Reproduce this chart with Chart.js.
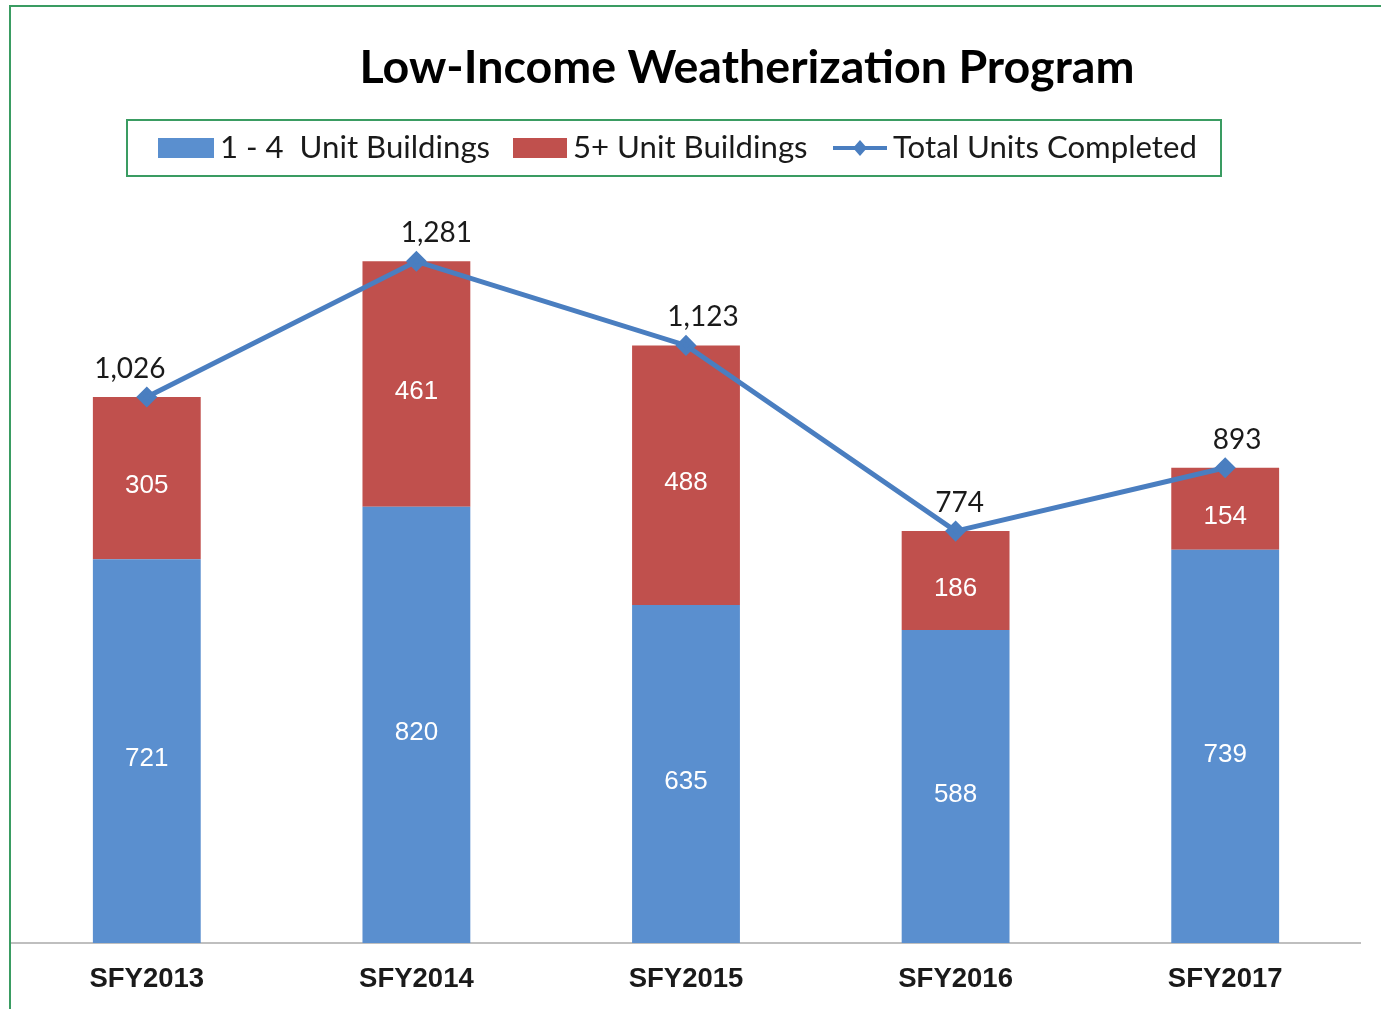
<!DOCTYPE html>
<html>
<head>
<meta charset="utf-8">
<script src="https://cdn.jsdelivr.net/npm/chart.js@4.4.1/dist/chart.umd.min.js"></script>
<style>
  html, body { margin: 0; padding: 0; background: #fff; overflow: hidden; }
  #wrap { position: absolute; left: 0; top: 0; width: 1381px; height: 1009px; }
</style>
</head>
<body>
<div id="wrap"><canvas id="myChart" width="1381" height="1009"></canvas></div>
<script>
// chart data
const years = ['SFY2013', 'SFY2014', 'SFY2015', 'SFY2016', 'SFY2017'];
const smallBuildings = [721, 820, 635, 588, 739];
const largeBuildings = [305, 461, 488, 186, 154];
const totalUnits = [1026, 1281, 1123, 774, 893];
const seriesNames = ['1 - 4  Unit Buildings', '5+ Unit Buildings', 'Total Units Completed'];
const chartTitle = 'Low-Income Weatherization Program';

const blue = '#5A8FCF';
const red = '#C0504D';
const lineBlue = '#4A7EC0';
const green = '#3A9C62';

// nudges for the total labels, like the hand placed ones in the original
const totalLabelShift = [-17, 20, 17, 4, 12];

const calibriLike = 'Lato, "Open Sans", sans-serif';
const arialLike = '"Liberation Sans", Arial, sans-serif';

function fitSize(ctx, text, weight, family, width) {
  ctx.font = weight + ' 100px ' + family;
  return 100 * width / ctx.measureText(text).width;
}

// outer frame, title and the boxed legend
const headerPlugin = {
  id: 'header',
  beforeDraw(chart) {
    const ctx = chart.ctx;
    ctx.save();
    ctx.strokeStyle = green;
    ctx.lineWidth = 2;
    ctx.beginPath();
    ctx.moveTo(10, 1009);
    ctx.lineTo(10, 6);
    ctx.lineTo(1381, 6);
    ctx.stroke();
    ctx.restore();
  },
  afterDraw(chart) {
    const ctx = chart.ctx;
    ctx.save();
    // title
    let size = fitSize(ctx, chartTitle, 'bold', calibriLike, 775);
    ctx.font = 'bold ' + size + 'px ' + calibriLike;
    ctx.fillStyle = '#000';
    ctx.textAlign = 'center';
    ctx.textBaseline = 'middle';
    ctx.fillText(chartTitle, 747, 68);

    // legend box
    ctx.strokeStyle = green;
    ctx.lineWidth = 2;
    ctx.strokeRect(127, 120, 1094, 56);

    size = fitSize(ctx, seriesNames[2], 'normal', calibriLike, 304);
    ctx.font = size + 'px ' + calibriLike;
    ctx.textAlign = 'left';
    const y = 148;
    ctx.fillStyle = blue;
    ctx.fillRect(158, 138, 56, 20);
    ctx.fillStyle = red;
    ctx.fillRect(513, 138, 54, 20);
    ctx.strokeStyle = lineBlue;
    ctx.lineWidth = 4;
    ctx.beginPath();
    ctx.moveTo(833, y);
    ctx.lineTo(887, y);
    ctx.stroke();
    ctx.fillStyle = lineBlue;
    ctx.beginPath();
    ctx.moveTo(860, y - 8);
    ctx.lineTo(867, y);
    ctx.lineTo(860, y + 8);
    ctx.lineTo(853, y);
    ctx.closePath();
    ctx.fill();

    ctx.fillStyle = '#1a1a1a';
    ctx.fillText(seriesNames[0], 220, y);
    ctx.fillText(seriesNames[1], 573, y);
    ctx.fillText(seriesNames[2], 893, y);
    ctx.restore();
  }
};

// numbers in the bars and above the line
const labelPlugin = {
  id: 'valueLabels',
  afterDatasetsDraw(chart) {
    const ctx = chart.ctx;
    ctx.save();
    ctx.textAlign = 'center';
    ctx.textBaseline = 'middle';
    ctx.font = '26px ' + arialLike;
    ctx.fillStyle = '#fff';
    [0, 1].forEach(i => {
      const meta = chart.getDatasetMeta(i);
      const values = chart.data.datasets[i].data;
      meta.data.forEach((bar, j) => {
        const mid = (bar.y + bar.base) / 2;
        ctx.fillText(String(values[j]), bar.x, mid + 8);
      });
    });
    ctx.font = '28px ' + calibriLike;
    ctx.fillStyle = '#1a1a1a';
    const lineMeta = chart.getDatasetMeta(2);
    lineMeta.data.forEach((pt, j) => {
      ctx.fillText(totalUnits[j].toLocaleString('en-US'), pt.x + totalLabelShift[j], pt.y - 28);
    });
    ctx.restore();
  }
};

const ctx = document.getElementById('myChart').getContext('2d');
const myChart = new Chart(ctx, {
  type: 'bar',
  data: {
    labels: years,
    datasets: [{
      label: seriesNames[0],
      data: smallBuildings,
      backgroundColor: blue,
      stack: 'units',
      order: 2
    }, {
      label: seriesNames[1],
      data: largeBuildings,
      backgroundColor: red,
      stack: 'units',
      order: 2
    }, {
      type: 'line',
      label: seriesNames[2],
      data: totalUnits,
      borderColor: lineBlue,
      backgroundColor: lineBlue,
      borderWidth: 5,
      pointStyle: 'rectRot',
      pointRadius: 7,
      pointHoverRadius: 7,
      fill: false,
      tension: 0,
      stack: 'total',
      order: 1
    }]
  },
  options: {
    responsive: false,
    animation: false,
    layout: { padding: { left: 12, right: 21, top: 198, bottom: 0 } },
    datasets: {
      bar: { categoryPercentage: 1, barPercentage: 0.4 }
    },
    plugins: {
      legend: { display: false },
      title: { display: false },
      tooltip: { enabled: false }
    },
    scales: {
      x: {
        stacked: true,
        grid: { display: false, drawTicks: false },
        border: { display: true, color: '#BFBFBF', width: 2 },
        afterFit(scale) { scale.height = 66; },
        ticks: {
          padding: 20,
          color: '#1a1a1a',
          font: { family: arialLike, size: 27.5, weight: 'bold' }
        }
      },
      y: {
        stacked: true,
        display: false,
        min: 0,
        max: 1400
      }
    }
  },
  plugins: [headerPlugin, labelPlugin]
});
</script>
</body>
</html>
